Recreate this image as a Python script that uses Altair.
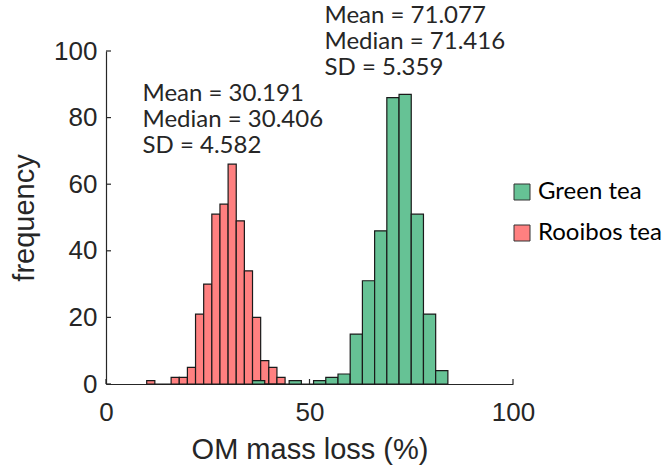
import altair as alt
import pandas as pd

# ---- data ----
red_edges = [10, 12, 14, 16, 18, 20, 22, 24, 26, 28, 30, 32, 34, 36, 38, 40, 42, 44]
red_counts = [1, 0, 0, 2, 2, 5, 21, 30, 51, 54, 66, 49, 34, 20, 7, 5, 2]
green_edges = [36, 39, 42, 45, 48, 51, 54, 57, 60, 63, 66, 69, 72, 75, 78, 81, 84]
green_counts = [1, 0, 0, 1, 0, 1, 2, 3, 15, 31, 46, 86, 87, 51, 21, 4]
series = ["Green tea", "Rooibos tea"]
series_colors = ["#66C295", "#FF8080"]
red_stats = ["Mean = 30.191", "Median = 30.406", "SD = 4.582"]
green_stats = ["Mean = 71.077", "Median = 71.416", "SD = 5.359"]
x_ticks = [0, 50, 100]
y_ticks = [0, 20, 40, 60, 80, 100]

rows = []
for i, c in enumerate(red_counts):
    rows.append({"tea": "Rooibos tea", "x0": red_edges[i], "x1": red_edges[i + 1], "count": c})
for i, c in enumerate(green_counts):
    rows.append({"tea": "Green tea", "x0": green_edges[i], "x1": green_edges[i + 1], "count": c})
df = pd.DataFrame(rows)

W, H = 407, 333
AX = "#262626"
AXFONT = "Liberation Sans"
TXTFONT = "Lato"

xs = alt.Scale(domain=[0, 100], nice=False, zero=False)
ys = alt.Scale(domain=[0, 100], nice=False)

bars = alt.Chart(df).mark_bar(stroke="#1a1a1a", strokeWidth=1.2, opacity=1).encode(
    x=alt.X("x0:Q", scale=xs, axis=alt.Axis(
        values=x_ticks, title="OM mass loss (%)", ticks=False, grid=False,
        labelFont=AXFONT, labelFontSize=26, labelPadding=15, labelColor=AX,
        labelFlush=False, titleFont=AXFONT, titleFontSize=29, titleFontWeight="normal",
        titleColor=AX, titlePadding=10, domainColor=AX, domainWidth=1.2)),
    x2="x1:Q",
    y=alt.Y("count:Q", scale=ys, stack=None, axis=alt.Axis(
        values=y_ticks, title="frequency", ticks=False, grid=False,
        labelFont=AXFONT, labelFontSize=26, labelPadding=9, labelColor=AX,
        labelFlush=False, titleFont=AXFONT, titleFontSize=29, titleFontWeight="normal",
        titleColor=AX, titlePadding=14, domainColor=AX, domainWidth=1.2)),
    y2=alt.datum(0),
    color=alt.Color("tea:N", scale=alt.Scale(domain=series, range=series_colors),
                    legend=alt.Legend(orient="none", legendX=404, legendY=129, title=None,
                                      symbolType="square", symbolSize=256,
                                      symbolStrokeColor="#333333", symbolStrokeWidth=1,
                                      symbolOpacity=1, labelFont=TXTFONT, labelFontSize=24,
                                      labelColor="black", rowPadding=17, labelOffset=4,
                                      padding=0)),
)

ytick_df = pd.DataFrame({"v": y_ticks})
xtick_df = pd.DataFrame({"v": x_ticks})
yticks = alt.Chart(ytick_df).mark_rule(color=AX, strokeWidth=1.2).encode(
    y=alt.Y("v:Q", scale=ys), x=alt.value(0), x2=alt.value(5))
xticks = alt.Chart(xtick_df).mark_rule(color=AX, strokeWidth=1.2).encode(
    x=alt.X("v:Q", scale=xs), y=alt.value(H), y2=alt.value(H - 5))

red_txt = alt.Chart(pd.DataFrame({"t": ["\n".join(red_stats)]})).mark_text(
    align="left", baseline="alphabetic", lineBreak="\n", lineHeight=26,
    font=TXTFONT, fontSize=24, color=AX).encode(
    text="t:N", x=alt.value(36.5), y=alt.value(50))
green_txt = alt.Chart(pd.DataFrame({"t": ["\n".join(green_stats)]})).mark_text(
    align="left", baseline="alphabetic", lineBreak="\n", lineHeight=26,
    font=TXTFONT, fontSize=24, color=AX).encode(
    text="t:N", x=alt.value(218.5), y=alt.value(-28))

chart = alt.layer(bars, yticks, xticks, red_txt, green_txt).properties(
    width=W, height=H,
    autosize=alt.AutoSizeParams(type="none"),
    padding={"left": 106, "top": 51, "right": 151, "bottom": 87},
    background="white",
).configure_view(stroke=None)

chart.save("out.html", embed_options={"renderer": "svg", "actions": False})
